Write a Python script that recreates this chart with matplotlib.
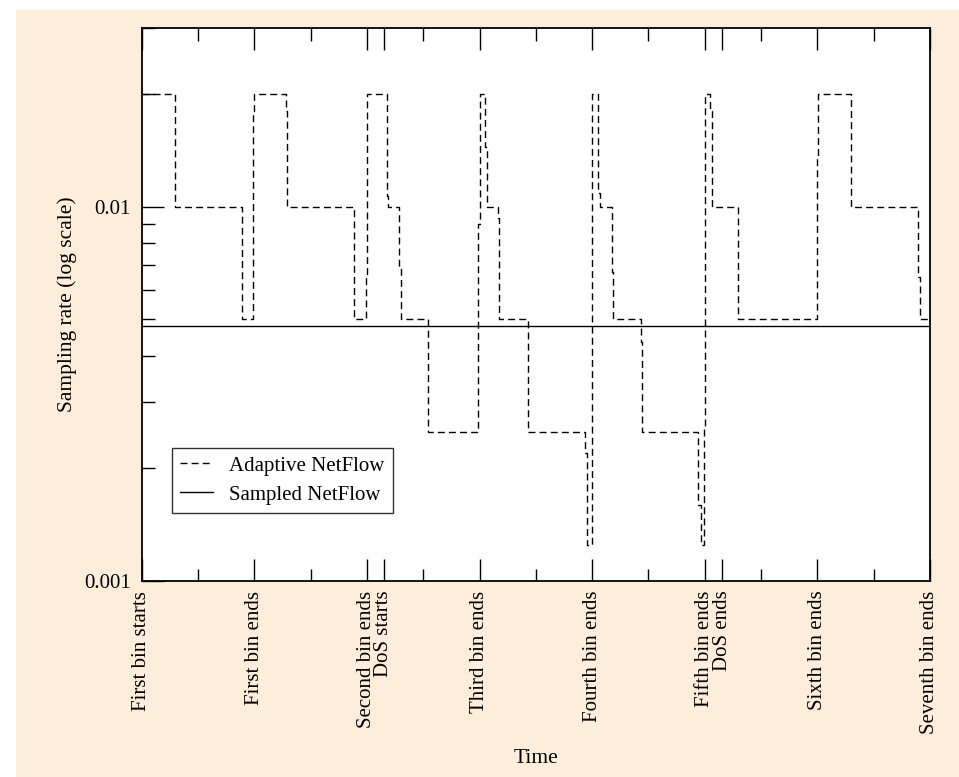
import matplotlib
matplotlib.use('Agg')
import matplotlib.pyplot as plt
from matplotlib.patches import Rectangle
from matplotlib.ticker import FixedLocator, NullFormatter

plt.rcParams['font.family'] = ['Liberation Serif', 'DejaVu Serif']

# time in units of bins, sampling rate at each change point (steps-post)
adaptive_t = [0.000, 0.296, 0.888, 0.991, 1.000, 1.282, 1.293, 1.888, 1.989, 2.000,
              2.176, 2.185, 2.288, 2.300, 2.540, 2.990, 3.000, 3.049, 3.064, 3.162,
              3.176, 3.433, 3.937, 3.952, 4.000, 4.055, 4.067, 4.174, 4.188, 4.434,
              4.446, 4.943, 4.965, 4.994, 5.000, 5.044, 5.060, 5.298, 5.995, 6.003,
              6.299, 6.897, 6.912, 7.000]
adaptive_rate = [0.02, 0.01, 0.005, 0.018, 0.02, 0.018, 0.01, 0.005, 0.0065, 0.02,
                 0.0107, 0.01, 0.0068, 0.005, 0.0025, 0.009, 0.02, 0.0144, 0.01, 0.0093,
                 0.005, 0.0025, 0.0022, 0.00125, 0.02, 0.0109, 0.01, 0.0067, 0.005, 0.00435,
                 0.0025, 0.0016, 0.00125, 0.0026, 0.02, 0.018, 0.01, 0.005, 0.0136, 0.02,
                 0.01, 0.0065, 0.005, 0.005]

sampled_t = [0.0, 7.0]
sampled_rate = [0.0048, 0.0048]

tick_pos = [0, 1, 2, 2.15, 3, 4, 5, 5.155, 6, 7]
tick_labels = ['First bin starts', 'First bin ends', 'Second bin ends', 'DoS starts',
               'Third bin ends', 'Fourth bin ends', 'Fifth bin ends', 'DoS ends',
               'Sixth bin ends', 'Seventh bin ends']
minor_pos = [0.5, 1.5, 2.5, 3.5, 4.5, 5.5, 6.5]

fig = plt.figure(figsize=(9.59, 7.77), dpi=100)
fig.patch.set_facecolor('white')
# beige backdrop like the magazine page, kept behind the axes
bg = Rectangle((16 / 959, 0), 1, 767 / 777, transform=fig.transFigure,
               facecolor='#fdeedb', edgecolor='none')
bg.set_zorder(-10)
fig.add_artist(bg)

ax = fig.add_axes([141.7 / 959, 1 - 581 / 777, 788.3 / 959, 553 / 777])
ax.set_zorder(1)
ax.set_facecolor('white')

ax.plot(adaptive_t, adaptive_rate, drawstyle='steps-post', color='black',
        linestyle=(0, (5, 3)), linewidth=1.0, label='Adaptive NetFlow')
ax.plot(sampled_t, sampled_rate, color='black', linewidth=1.0, label='Sampled NetFlow')

ax.set_yscale('log')
ax.set_ylim(0.001, 0.03)
ax.set_xlim(0, 7)

ax.yaxis.set_major_locator(FixedLocator([0.001, 0.01]))
ax.set_yticklabels(['0.001', '0.01'])
ax.yaxis.set_minor_locator(FixedLocator([k * 0.001 for k in range(2, 10)] + [0.02, 0.03]))
ax.yaxis.set_minor_formatter(NullFormatter())

ax.set_xticks(tick_pos)
ax.set_xticklabels(tick_labels, rotation=90, va='top', ha='center')
ax.xaxis.set_minor_locator(FixedLocator(minor_pos))

ax.tick_params(axis='both', which='both', direction='in', top=True, right=False,
               labelsize=15, width=1.0)
ax.tick_params(which='major', length=16)
ax.tick_params(which='minor', length=9)
ax.tick_params(axis='x', pad=7)
ax.tick_params(axis='y', pad=8)

for s in ax.spines.values():
    s.set_linewidth(1.3)

ax.set_ylabel('Sampling rate (log scale)', fontsize=15.5, labelpad=5)
ax.set_xlabel('Time', fontsize=15.5)
ax.xaxis.set_label_coords(0.5, -0.303)

leg = ax.legend(loc='upper left', bbox_to_anchor=(30 / 788.3, 1 - 419.7 / 553),
                fontsize=15, frameon=True, fancybox=False, edgecolor='black',
                handlelength=1.6, borderpad=0.4, labelspacing=0.45, handletextpad=0.75,
                borderaxespad=0)
leg.get_frame().set_linewidth(1.0)

fig.savefig('out.png', dpi=100, facecolor=fig.get_facecolor())
